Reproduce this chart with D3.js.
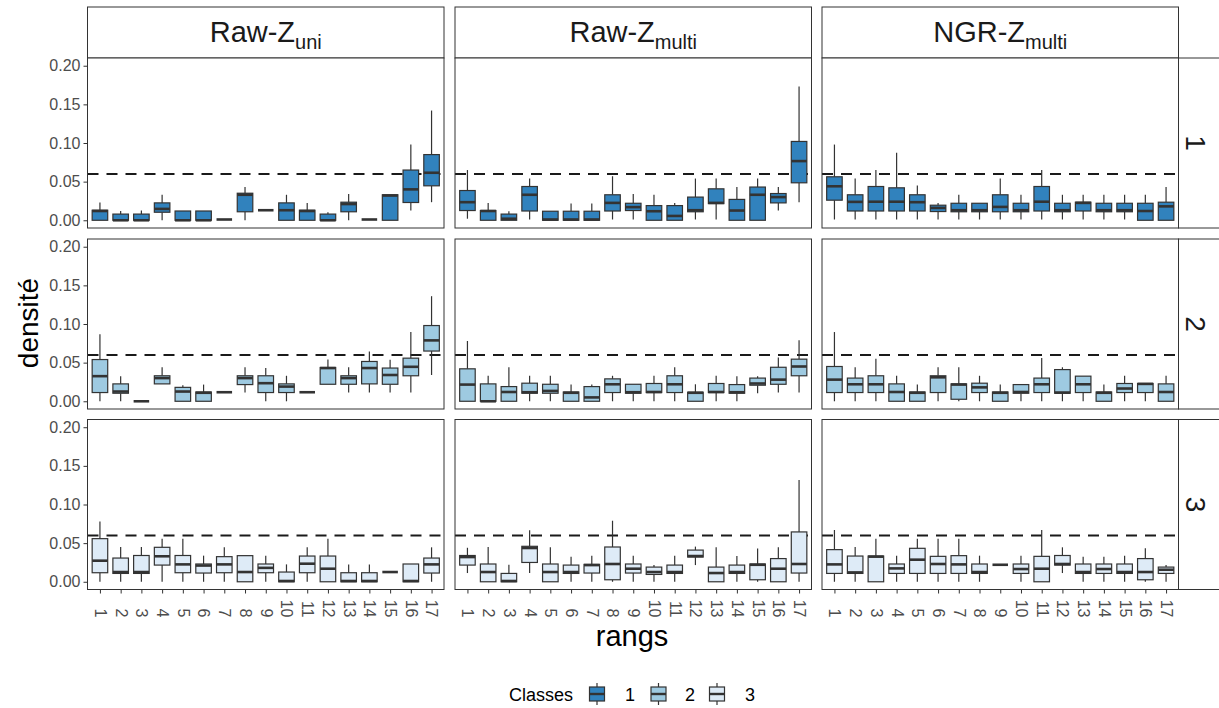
<!DOCTYPE html>
<html><head><meta charset="utf-8">
<script src="https://cdn.jsdelivr.net/npm/d3@7"></script>
<style>body{margin:0;background:#fff} svg{display:block;font-family:"Liberation Sans",Arial,Helvetica,sans-serif}</style>
</head><body><svg id="c" width="1219" height="708"></svg>
<script>
// ---------- data ----------
const ranks = d3.range(1, 18).map(String);
const methodNames = ["Raw-Z", "Raw-Z", "NGR-Z"];
const methodSubs = ["uni", "multi", "multi"];
const classes = ["1", "2", "3"];
const yTicks = [0, 0.05, 0.10, 0.15, 0.20];
const refLine = 0.06;
// each entry: [lower whisker, q1, median, q3, upper whisker]
const rawUni1 = [[0,0,0.012,0.013,0.023],[0,0,0,0.008,0.012],[0,0,0,0.008,0.0125],[0,0.0104,0.0147,0.0225,0.033],[0,0,0,0.012,0.012],[0,0,0,0.012,0.012],[0.001,0.001,0.001,0.001,0.001],[0,0.011,0.033,0.035,0.043],[0.013,0.013,0.013,0.013,0.013],[0,0,0.013,0.0225,0.033],[0,0,0.012,0.013,0.0225],[0,0,0,0.008,0.0104],[0,0.011,0.021,0.0234,0.034],[0.001,0.001,0.001,0.001,0.001],[0,0,0.032,0.033,0.033],[0.0126,0.023,0.040,0.065,0.098],[0.0234,0.0446,0.0615,0.085,0.142]];
const rawMulti1 = [[0.002,0.0126,0.0234,0.0385,0.065],[0,0,0.012,0.0126,0.0225],[0,0,0.002,0.008,0.0117],[0.001,0.012,0.033,0.0437,0.054],[0,0,0.001,0.0117,0.0117],[0,0,0.001,0.0117,0.0216],[0,0,0.001,0.0117,0.0216],[0.001,0.012,0.0225,0.033,0.057],[0.001,0.0126,0.017,0.022,0.034],[0,0,0.0117,0.019,0.033],[0,0,0.0056,0.019,0.0225],[0.001,0.011,0.013,0.030,0.054],[0.001,0.0216,0.0225,0.0407,0.054],[0,0,0.0126,0.027,0.043],[0,0,0.033,0.043,0.054],[0.0126,0.0225,0.030,0.0346,0.043],[0.0234,0.0485,0.0766,0.102,0.173]];
const ngrMulti1 = [[0.001,0.026,0.044,0.0563,0.098],[0.001,0.012,0.0238,0.033,0.054],[0.001,0.012,0.024,0.0437,0.065],[0.001,0.012,0.024,0.042,0.0874],[0.001,0.012,0.0234,0.033,0.045],[0.001,0.0113,0.016,0.0195,0.0225],[0.001,0.011,0.013,0.022,0.033],[0.001,0.011,0.013,0.022,0.022],[0.001,0.011,0.0173,0.033,0.054],[0.001,0.011,0.013,0.022,0.033],[0.001,0.012,0.024,0.0437,0.065],[0.001,0.011,0.013,0.022,0.033],[0.001,0.012,0.0225,0.0234,0.033],[0.001,0.011,0.013,0.022,0.033],[0.001,0.011,0.013,0.022,0.033],[0,0,0.012,0.022,0.033],[0,0,0.018,0.0234,0.043]];
const rawUni2 = [[0,0.0113,0.0325,0.054,0.0866],[0,0.0104,0.0126,0.0225,0.0325],[0,0,0,0,0],[0.0225,0.0225,0.030,0.033,0.044],[0,0,0.0126,0.018,0.0208],[0,0,0.011,0.012,0.0216],[0.0117,0.0117,0.0117,0.0117,0.0117],[0.0113,0.0216,0.030,0.033,0.044],[0,0.0113,0.0234,0.033,0.043],[0,0.0113,0.019,0.0225,0.033],[0.0117,0.0117,0.0117,0.0117,0.0117],[0.022,0.022,0.043,0.0437,0.054],[0.0113,0.022,0.030,0.033,0.044],[0.0113,0.0225,0.043,0.0515,0.0645],[0.0113,0.022,0.034,0.043,0.0537],[0.0113,0.033,0.0446,0.0558,0.0896],[0.034,0.065,0.0788,0.098,0.136]];
const rawMulti2 = [[0,0,0.0216,0.042,0.078],[0,0,0,0.0225,0.033],[0,0,0.012,0.019,0.044],[0,0.0104,0.0117,0.0234,0.033],[0,0.0104,0.0134,0.022,0.033],[0,0,0.011,0.012,0.0216],[0,0,0.005,0.019,0.0216],[0,0.0113,0.022,0.029,0.033],[0,0.0104,0.0117,0.022,0.022],[0,0.0113,0.012,0.023,0.033],[0,0.0113,0.022,0.033,0.044],[0,0,0.011,0.0117,0.022],[0,0.0113,0.012,0.023,0.033],[0,0.0104,0.0117,0.0216,0.0325],[0.0104,0.0208,0.023,0.030,0.0325],[0.0113,0.022,0.028,0.044,0.0567],[0.0113,0.033,0.045,0.0545,0.079]];
const ngrMulti2 = [[0,0.0113,0.028,0.045,0.0896],[0,0.0113,0.022,0.030,0.044],[0,0.0113,0.022,0.033,0.055],[0,0,0.012,0.0225,0.033],[0,0,0.011,0.012,0.0216],[0,0.0113,0.031,0.033,0.044],[0,0.0026,0.0216,0.0225,0.044],[0,0.0113,0.018,0.0234,0.033],[0,0,0.011,0.012,0.0216],[0,0.0104,0.012,0.0216,0.0216],[0,0.0113,0.022,0.030,0.056],[0,0.0104,0.0113,0.041,0.044],[0,0.0113,0.022,0.0325,0.0325],[0,0,0.011,0.012,0.0216],[0,0.0113,0.0165,0.023,0.033],[0,0.0113,0.0225,0.023,0.023],[0,0,0.012,0.0225,0.033]];
const rawUni3 = [[0,0.0117,0.0273,0.0558,0.078],[0,0.0108,0.0126,0.0307,0.045],[0,0.0108,0.0126,0.034,0.045],[0,0.0216,0.033,0.0446,0.0558],[0,0.0117,0.0225,0.034,0.0558],[0,0.0113,0.021,0.023,0.0338],[0,0.0117,0.0225,0.0325,0.0446],[0,0,0.0126,0.0338,0.0338],[0,0.0117,0.018,0.023,0.0338],[0,0,0.001,0.0126,0.0225],[0,0.0117,0.0234,0.0333,0.0446],[0,0,0.0169,0.0333,0.0558],[0,0,0.001,0.0117,0.0225],[0,0,0.001,0.0117,0.0225],[0.0126,0.0126,0.0126,0.0126,0.0126],[0,0,0.001,0.023,0.023],[0,0.0113,0.0225,0.0307,0.0446]];
const rawMulti3 = [[0.0113,0.0216,0.032,0.034,0.044],[0,0,0.0126,0.023,0.045],[0,0,0.001,0.0108,0.022],[0.0113,0.025,0.0437,0.0459,0.0667],[0,0,0.0126,0.023,0.0446],[0,0.0108,0.0126,0.0216,0.0325],[0,0.0113,0.0216,0.0225,0.0338],[0,0.0026,0.023,0.045,0.079],[0,0.0113,0.0169,0.023,0.0338],[0,0.0095,0.0126,0.019,0.0216],[0,0.0108,0.0126,0.0216,0.0338],[0.0216,0.032,0.0333,0.041,0.0455],[0,0,0.0113,0.019,0.0446],[0,0.0108,0.0126,0.0216,0.0333],[0,0.0026,0.022,0.023,0.043],[0,0,0.0169,0.030,0.0446],[0,0.0113,0.023,0.0645,0.1316]];
const ngrMulti3 = [[0,0.0108,0.0225,0.0416,0.067],[0,0.0108,0.0121,0.0333,0.045],[0,0,0.0325,0.0333,0.0558],[0,0.0108,0.0173,0.023,0.0338],[0,0.0108,0.0286,0.0433,0.0558],[0,0.0108,0.023,0.0329,0.0558],[0,0.0108,0.0225,0.0338,0.0558],[0,0.0108,0.0126,0.023,0.0338],[0.022,0.022,0.022,0.022,0.022],[0,0.0108,0.0165,0.023,0.0338],[0,0,0.0169,0.0329,0.067],[0.0113,0.0216,0.023,0.034,0.0446],[0,0.0108,0.0126,0.023,0.0325],[0,0.0108,0.0165,0.023,0.0325],[0,0.0108,0.0126,0.023,0.0338],[0,0.0026,0.0126,0.030,0.0433],[0,0.0108,0.0156,0.019,0.0216]];
const grid = [[rawUni1, rawMulti1, ngrMulti1],[rawUni2, rawMulti2, ngrMulti2],[rawUni3, rawMulti3, ngrMulti3]];

// ---------- style / layout ----------
const fills = ["#3182BD", "#9ECAE1", "#DEEBF7"];
const ink = "#333333";
const colLeft = [87.5, 455, 822], panelW = 356.5;
const rowTop = [58, 239, 419.5], panelH = 170;
const svg = d3.select("#c");

const x = d3.scalePoint().domain(ranks).range([0, panelW]).padding(0.6);
const bw = x.step() * 0.75;

// strips top
methodNames.forEach((m, c) => {
  const g = svg.append("g").attr("transform", `translate(${colLeft[c]},7)`);
  g.append("rect").attr("width", panelW).attr("height", 51).attr("fill", "#fff").attr("stroke", ink).attr("stroke-width", 1);
  const t = g.append("text").attr("x", panelW / 2).attr("y", 35).attr("text-anchor", "middle")
    .attr("font-size", 29).attr("fill", "#1A1A1A");
  t.append("tspan").text(m);
  t.append("tspan").attr("font-size", 20).attr("dy", 7).text(methodSubs[c]);
});

grid.forEach((row, r) => {
  const y = d3.scaleLinear().domain([-0.01, 0.21]).range([rowTop[r] + panelH, rowTop[r]]);
  // right strip
  const sg = svg.append("g").attr("transform", `translate(1178.5,${rowTop[r]})`);
  sg.append("rect").attr("width", 60).attr("height", panelH).attr("fill", "#fff").attr("stroke", ink);
  sg.append("text").attr("transform", `translate(17,${panelH / 2}) rotate(90)`).attr("text-anchor", "middle")
    .attr("dy", "0.35em").attr("font-size", 28).attr("fill", "#1A1A1A").text(classes[r]);

  row.forEach((data, c) => {
    const g = svg.append("g").attr("transform", `translate(${colLeft[c]},${rowTop[r]})`);
    const yl = d3.scaleLinear().domain(y.domain()).range([panelH, 0]);
    g.append("rect").attr("width", panelW).attr("height", panelH).attr("fill", "#fff");
    // dashed reference
    g.append("line").attr("x1", 0).attr("x2", panelW).attr("y1", yl(refLine)).attr("y2", yl(refLine))
      .attr("stroke", "#1a1a1a").attr("stroke-width", 2).attr("stroke-dasharray", "11,8");
    const b = g.selectAll("g.box").data(data).join("g").attr("class", "box")
      .attr("transform", (d, i) => `translate(${x(ranks[i])},0)`);
    b.append("line").attr("y1", d => yl(d[3])).attr("y2", d => yl(d[4])).attr("stroke", ink).attr("stroke-width", 1.2);
    b.append("line").attr("y1", d => yl(d[1])).attr("y2", d => yl(d[0])).attr("stroke", ink).attr("stroke-width", 1.2);
    b.append("rect").attr("x", -bw / 2).attr("width", bw)
      .attr("y", d => yl(d[3])).attr("height", d => yl(d[1]) - yl(d[3]))
      .attr("fill", fills[r]).attr("stroke", ink).attr("stroke-width", 1.2);
    b.append("line").attr("x1", -bw / 2).attr("x2", bw / 2).attr("y1", d => yl(d[2])).attr("y2", d => yl(d[2]))
      .attr("stroke", ink).attr("stroke-width", 2.6);
    g.append("rect").attr("width", panelW).attr("height", panelH).attr("fill", "none").attr("stroke", ink).attr("stroke-width", 1);

    if (c === 0) {
      const ax = g.append("g").call(d3.axisLeft(yl).tickValues(yTicks).tickFormat(d3.format(".2f")).tickSize(4).tickPadding(3));
      ax.select(".domain").remove();
      ax.selectAll("line").attr("stroke", ink);
      ax.selectAll("text").attr("font-size", 16).attr("fill", "#4D4D4D").attr("font-family", "Liberation Sans, Arial, sans-serif");
    }
    if (r === 2) {
      const ax = g.append("g").attr("transform", `translate(0,${panelH})`)
        .call(d3.axisBottom(x).tickSize(4).tickPadding(0));
      ax.select(".domain").remove();
      ax.selectAll("line").attr("stroke", ink);
      ax.selectAll("text").attr("font-size", 16).attr("fill", "#4D4D4D").attr("font-family", "Liberation Sans, Arial, sans-serif")
        .attr("y", 0).attr("x", 0)
        .attr("transform", "translate(0,28) rotate(90)").attr("text-anchor", "end").attr("dy", "0.35em");
    }
  });
});

// axis titles
svg.append("text").attr("transform", "translate(28,323) rotate(-90)").attr("text-anchor", "middle").attr("dy", "0.35em")
  .attr("font-size", 28).attr("fill", "#000").text("densité");
svg.append("text").attr("x", 632).attr("y", 636).attr("text-anchor", "middle").attr("dy", "0.35em")
  .attr("font-size", 29).attr("fill", "#000").text("rangs");

// legend
const lg = svg.append("g");
lg.append("text").attr("x", 509).attr("y", 700.5).attr("font-size", 18).attr("fill", "#000").text("Classes");
const keyX = [589.5, 651, 709.5], labX = [630, 690, 750];
classes.forEach((k, i) => {
  const kg = lg.append("g").attr("transform", `translate(${keyX[i]},0)`);
  kg.append("line").attr("x1", 7.5).attr("x2", 7.5).attr("y1", 683).attr("y2", 705).attr("stroke", ink).attr("stroke-width", 1.2);
  kg.append("rect").attr("width", 15).attr("y", 687).attr("height", 14).attr("fill", fills[i]).attr("stroke", ink).attr("stroke-width", 1.2);
  kg.append("line").attr("x1", 0).attr("x2", 15).attr("y1", 694).attr("y2", 694).attr("stroke", ink).attr("stroke-width", 2.4);
  lg.append("text").attr("x", labX[i]).attr("y", 700.5).attr("text-anchor", "middle").attr("font-size", 18).attr("fill", "#000").text(k);
});
</script></body></html>
